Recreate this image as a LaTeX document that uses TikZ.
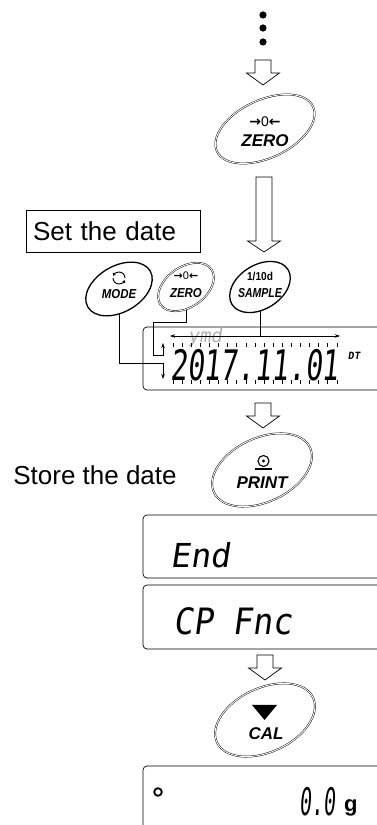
\documentclass[tikz,border=0pt]{standalone}
\usepackage{fontspec}
\setmainfont{Liberation Sans}
\newfontfamily\lcdfont[FakeSlant=0.15]{DejaVu Sans Mono}
\newfontfamily\symfont{DejaVu Sans}
\usepackage{tikz}
\usetikzlibrary{arrows.meta, positioning, shapes.geometric, backgrounds}

\begin{document}
\begin{tikzpicture}[x=1pt, y=1pt,
  bigkey/.style={ellipse, draw, double, double distance=0.9pt, line width=0.45pt, fill=white, minimum width=106pt, minimum height=64pt, inner sep=0pt},
  smallkey/.style={ellipse, draw, line width=1.3pt, fill=white, inner sep=0pt},
  smallkeydbl/.style={smallkey, line width=0.45pt, double, double distance=0.9pt},
  keylbl/.style={font=\fontsize{17}{17}\selectfont\bfseries\itshape, inner sep=0pt},
  smalllbl/.style={font=\fontsize{13}{13}\selectfont\bfseries\itshape, inner sep=0pt, xscale=0.88},
  iconlbl/.style={font=\fontsize{14}{14}\selectfont, inner sep=0pt},
  steplbl/.style={font=\fontsize{26}{26}\selectfont, inner sep=2pt},
  lcd/.style={font=\lcdfont\fontsize{33}{33}\selectfont, inner sep=0pt, anchor=west},
  panel/.style={line width=0.7pt, rounded corners=4pt},
  hollow/.style={draw, line width=0.7pt, fill=white, line join=miter},
  link/.style={line width=0.7pt},
  blinktick/.style={line width=0.6pt},
  seltip/.style={-{Stealth[length=5pt, width=3.5pt]}}
]
\useasboundingbox (0,0) rectangle (377,825);

% -- continuation dots and the hollow step arrows
\foreach \y in {810, 797, 783} \fill (263,\y) circle (3.6);
\foreach \ax/\at/\an/\ap in {263/765/752/740, 264/648/584/573, 263/422/409/397, 265/170/157/145} {
  \draw[hollow] (\ax-8,\at) -- (\ax+8,\at) -- (\ax+8,\an) -- (\ax+16.5,\an) -- (\ax,\ap) -- (\ax-16.5,\an) -- (\ax-8,\an) -- cycle;
}

% -- first ZERO key
\node[bigkey, minimum height=58pt, rotate=25] (zerokey) at (265,696) {};
\node[iconlbl] (zeroicon) at (265,703) {{\symfont\bfseries →}0{\symfont\bfseries ←}};
\node[keylbl] (zeroname) at (265,684) {ZERO};

% -- set the date
\node[draw, line width=0.7pt, steplbl, inner xsep=7pt, text width=160pt, align=left, minimum height=42pt] (setdate) at (113,594) {Set the date};

\node[smallkey, minimum width=72pt, minimum height=46pt, rotate=30] (modekey) at (119,536) {};
\draw[line width=0.9pt, -{Triangle[length=2.6pt, width=3.2pt]}] (125,547) arc[start angle=0, end angle=160, radius=6];
\draw[line width=0.9pt, -{Triangle[length=2.6pt, width=3.2pt]}] (113,547) arc[start angle=180, end angle=340, radius=6];
\node[smalllbl] (modename) at (119,531) {MODE};

\node[smallkeydbl, minimum width=62pt, minimum height=40pt, rotate=35] (zerosmall) at (186,538) {};
\node[iconlbl, font=\fontsize{11}{11}\selectfont] (zerosmallicon) at (186,549) {{\symfont\bfseries →}0{\symfont\bfseries ←}};
\node[smalllbl] (zerosmallname) at (186,532) {ZERO};

\node[smallkey, minimum width=66pt, minimum height=44pt, rotate=32] (samplekey) at (260,538) {};
\node[smalllbl, font=\fontsize{11.5}{12}\selectfont\bfseries] (sampleicon) at (260,549) {1/10d};
\node[smalllbl, xscale=0.92] (samplename) at (260,532) {SAMPLE};

% -- date display
\draw[panel] (377,498) -- (143,498) -- (143,435) -- (377,435);
\coordinate (selleft) at (170,489);
\coordinate (selright) at (340,489);
\coordinate (zeroin) at (163,482);
\coordinate (modein) at (163,446);
\node[inner sep=0pt, font=\lcdfont\fontsize{19}{19}\selectfont, gray!60] (ymdlbl) at (205,488) {ymd};
\foreach \i in {0,...,18} {
  \draw[blinktick] ({173+\i*9.1},478) -- ++(0,4);
  \draw[blinktick] ({173+\i*9.1},441) -- ++(0,4);
}
\node[lcd, font=\lcdfont\fontsize{28}{28}\selectfont, yscale=1.5] (datevalue) at (170,460) {2017.11.01};
\node[inner sep=0pt, font=\lcdfont\fontsize{10}{10}\selectfont\bfseries] (datemark) at (354,469) {DT};
\draw[link, {Stealth[length=5pt, width=3.5pt]}-{Stealth[length=5pt, width=3.5pt]}] (selleft) -- (selright);

\begin{scope}[on background layer]
\draw[link, seltip] (modekey.center) |- ([yshift=16pt]modein) -- (modein);
\draw[link, seltip] (zerosmall.center) |- (153,503) |- ([yshift=-12pt]zeroin) -- (zeroin);
\draw[link] (samplekey.center) -- (samplekey.center |- selleft);
\end{scope}

% -- store the date
\node[bigkey, rotate=25] (printkey) at (262,355) {};
\draw[line width=1.1pt] (263.5,364) circle (5.5);
\fill (263.5,364) circle (1.6);
\draw[line width=1.2pt] (255,356) -- (272,356);
\node[keylbl] (printname) at (262,342) {PRINT};
\node[steplbl] (storedate) at (95,350) {Store the date};

\draw[panel] (377,310) -- (143,310) -- (143,247) -- (377,247);
\node[lcd] (endmsg) at (170,270) {End};
\draw[panel] (377,240) -- (143,240) -- (143,176) -- (377,176);
\node[lcd, yscale=1.1] (cpmsg) at (173,204) {CP Fnc};

% -- back to weighing
\node[bigkey, rotate=25] (calkey) at (265,105) {};
\fill (252,120) -- (277,120) -- (264.5,105) -- cycle;
\node[keylbl] (calname) at (266,91) {CAL};

\draw[panel] (377,59) -- (143,59) -- (143,0);
\draw[line width=1.8pt] (158,33) circle (3.8);
\node[lcd, font=\lcdfont\fontsize{20}{20}\selectfont, yscale=1.9] (weight) at (299,23) {0.0};
\node[inner sep=0pt, anchor=base west, font=\fontsize{22}{22}\selectfont\bfseries] (unitg) at (344,13) {g};
\end{tikzpicture}
\end{document}
